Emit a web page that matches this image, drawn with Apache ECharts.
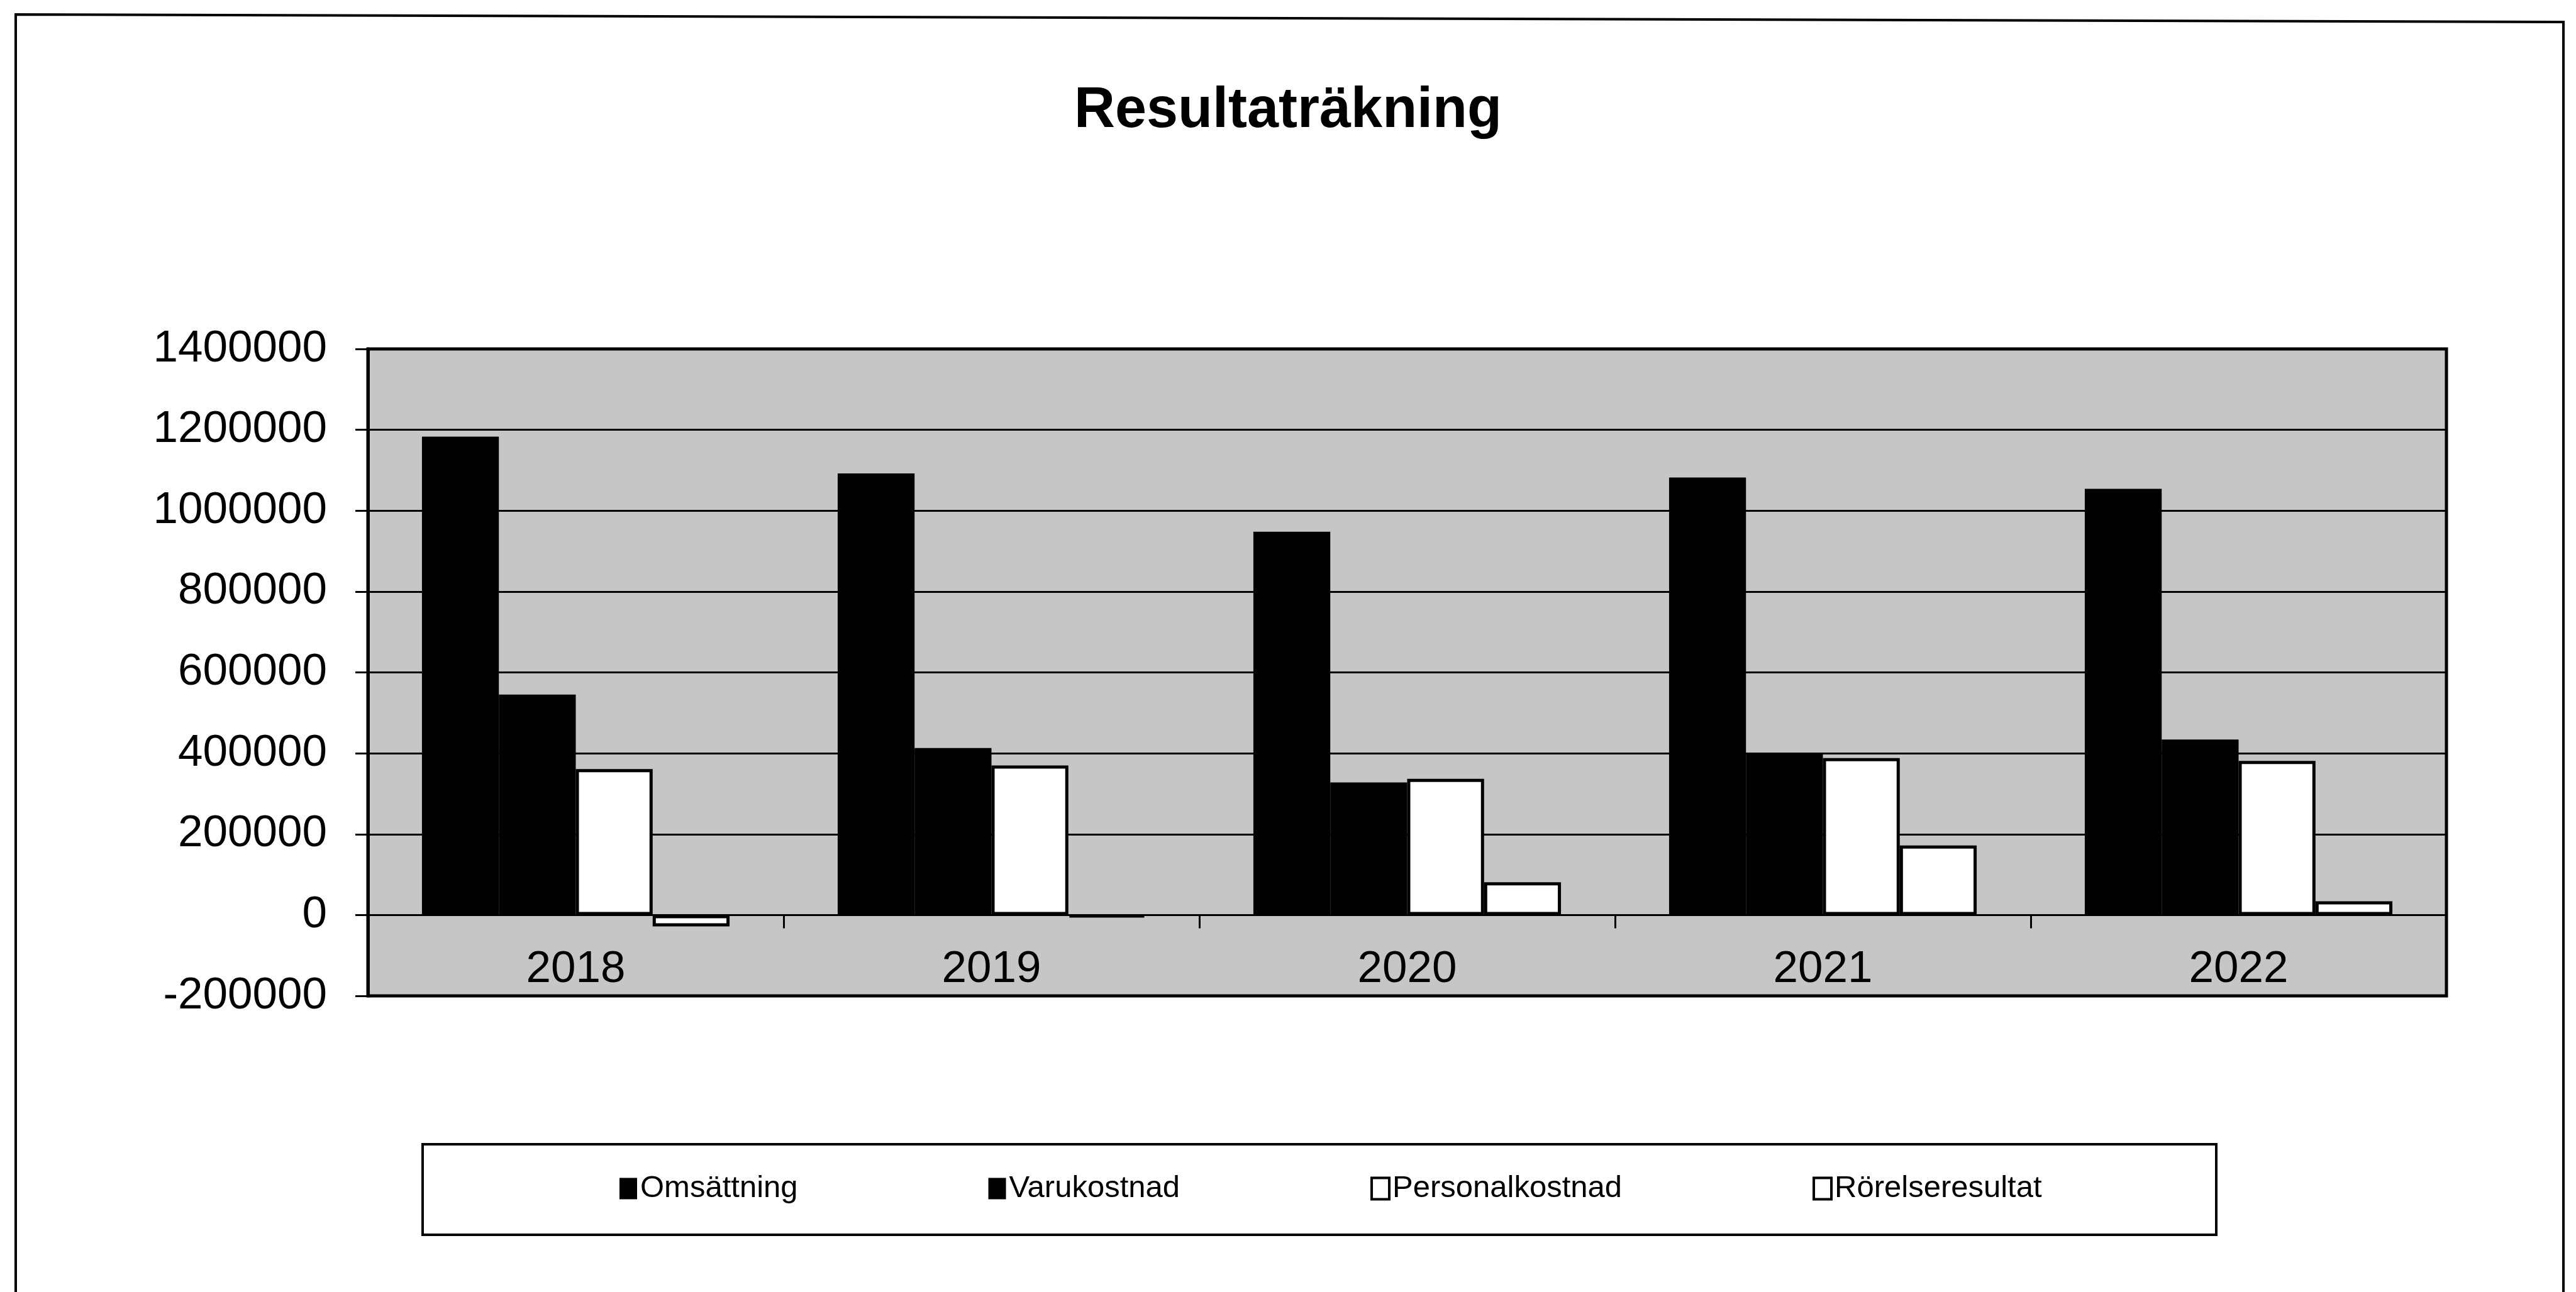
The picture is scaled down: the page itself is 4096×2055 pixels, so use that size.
<!DOCTYPE html>
<html>
<head>
<meta charset="utf-8">
<script src="https://cdn.jsdelivr.net/npm/echarts@6/dist/echarts.min.js"></script>
<style>
  html, body { margin: 0; padding: 0; background: #ffffff; }
  #chart { width: 4096px; height: 2055px; }
</style>
</head>
<body>
<div id="chart"></div>
<script>
// ---- data ----
const years = ['2018', '2019', '2020', '2021', '2022'];
const omsattning      = [1183000, 1092000, 948000, 1082000, 1054000];
const varukostnad     = [545000, 413000, 328000, 400000, 434000];
const personalkostnad = [361000, 370000, 337000, 388000, 381000];
const rorelseresultat = [-28000, -5000, 81000, 172000, 34000];
const seriesNames = ['Omsättning', 'Varukostnad', 'Personalkostnad', 'Rörelseresultat'];
const yTicks = [-200000, 0, 200000, 400000, 600000, 800000, 1000000, 1200000, 1400000];

const FONT = '"Liberation Sans", Arial, Helvetica, sans-serif';
const chart = echarts.init(document.getElementById('chart'), null, { renderer: 'canvas' });

const solid = { color: '#000000', borderColor: '#000000', borderWidth: 0 };
const hollow = { color: '#ffffff', borderColor: '#000000', borderWidth: 5 };

const seriesData = [omsattning, varukostnad, personalkostnad, rorelseresultat];
const styles = [solid, solid, hollow, hollow];

chart.setOption({
  animation: false,
  backgroundColor: '#ffffff',
  title: {
    text: 'Resultaträkning',
    left: 'center',
    top: 127,
    textStyle: { fontFamily: FONT, fontSize: 90, fontWeight: 'bold', color: '#000000' }
  },
  legend: {
    data: seriesNames.map((n, i) => ({
      name: n,
      itemStyle: i < 2 ? { color: '#000000', borderWidth: 0 }
                       : { color: '#ffffff', borderColor: '#000000', borderWidth: 4 }
    })),
    left: 985,
    top: 1866,
    orient: 'horizontal',
    icon: 'rect',
    itemWidth: 28,
    itemHeight: 34,
    itemGap: 303,
    padding: 0,
    textStyle: { fontFamily: FONT, fontSize: 49, color: '#000000' }
  },
  grid: {
    left: 585, right: 206, top: 555, bottom: 471,
    show: true,
    backgroundColor: '#c6c6c6',
    borderColor: '#000000',
    borderWidth: 5
  },
  xAxis: [
    {
      // category labels, drawn inside the bottom of the plot area
      type: 'category',
      data: years,
      position: 'bottom',
      axisLine: { show: false, onZero: false },
      axisTick: { show: false },
      axisLabel: { fontFamily: FONT, fontSize: 71, color: '#000000', inside: true, margin: 6, interval: 0 },
      splitLine: { show: false }
    },
    {
      // axis line and tick marks crossing at zero
      type: 'category',
      data: years,
      position: 'bottom',
      axisLine: { show: true, onZero: true, lineStyle: { color: '#000000', width: 3 } },
      axisTick: { show: true, inside: false, length: 21, alignWithLabel: false, lineStyle: { color: '#000000', width: 3 } },
      axisLabel: { show: false },
      splitLine: { show: false }
    }
  ],
  yAxis: {
    type: 'value',
    min: yTicks[0],
    max: yTicks[yTicks.length - 1],
    interval: yTicks[1] - yTicks[0],
    axisLine: { show: true, lineStyle: { color: '#000000', width: 5 } },
    axisTick: { show: true, inside: false, length: 20, lineStyle: { color: '#000000', width: 3 } },
    axisLabel: { fontFamily: FONT, fontSize: 71, color: '#000000', margin: 65, formatter: v => String(v) },
    splitLine: { show: true, lineStyle: { color: '#000000', width: 3 } }
  },
  series: seriesNames.map((name, i) => ({
    name: name,
    type: 'bar',
    xAxisIndex: 0,
    data: seriesData[i],
    barGap: '0%',
    barCategoryGap: '26%',
    itemStyle: styles[i],
    emphasis: { disabled: true }
  })),
  graphic: [
    {
      type: 'polyline',
      shape: { points: [[25, 2070], [25, 23], [4076, 35], [4076, 2070]] },
      style: { stroke: '#000000', lineWidth: 4, fill: null },
      silent: true
    },
    {
      type: 'rect',
      shape: { x: 672, y: 1820, width: 2852, height: 144 },
      style: { stroke: '#000000', lineWidth: 4, fill: null },
      silent: true
    }
  ]
});
</script>
</body>
</html>
